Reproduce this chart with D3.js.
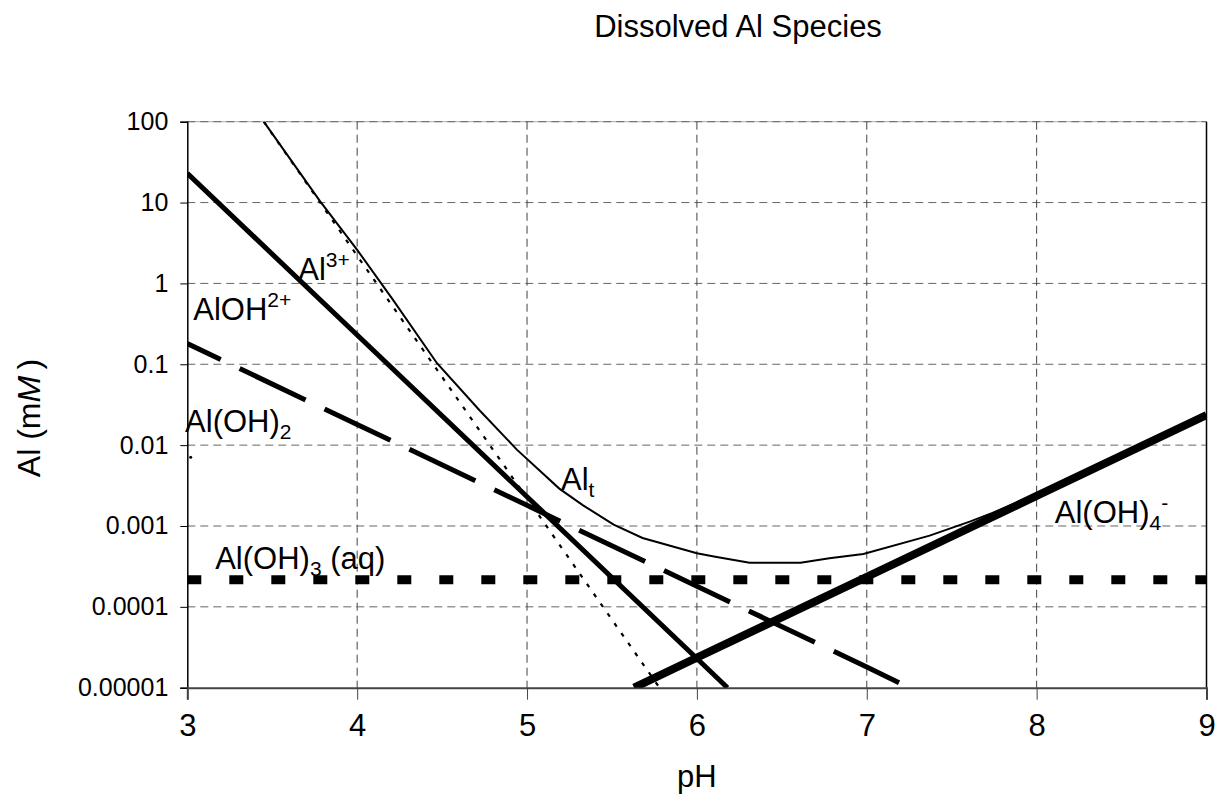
<!DOCTYPE html>
<html>
<head>
<meta charset="utf-8">
<script src="https://cdn.jsdelivr.net/npm/d3@7"></script>
<style>
  body { margin: 0; background: #fff; }
  svg { font-family: "Liberation Sans", Arial, sans-serif; }
</style>
</head>
<body>
<svg width="1225" height="812"></svg>
<script>
const phTicks = [3, 4, 5, 6, 7, 8, 9];
const concTicks = [1e-5, 1e-4, 1e-3, 1e-2, 0.1, 1, 10, 100];
const concTickLabels = ["0.00001", "0.0001", "0.001", "0.01", "0.1", "1", "10", "100"];

// [pH, mM]
const alThick = [[3, 23], [4, 0.23], [5, 0.0023], [6, 0.000023], [6.18, 0.00001]];
const alDotted = [[3.45, 100], [4, 2.2], [5, 0.0022], [5.78, 0.00001]];
const alDashed = [[3, 0.18], [4, 0.018], [5, 0.0018], [6, 0.00018], [7, 0.000018], [7.19, 0.0000115]];
const alOH3aq = [[3, 0.000216], [9, 0.000216]];
const alOH4 = [[5.63, 0.00001], [6, 0.0000235], [7, 0.000235], [8, 0.00235], [9, 0.0235]];
const alTotal = [[3.45, 100], [3.78, 10.5], [4.0, 2.6], [4.21, 0.63], [4.47, 0.103], [4.72, 0.027],
  [4.94, 0.0088], [5.19, 0.0029], [5.33, 0.0018], [5.51, 0.00104], [5.68, 0.00071], [6.0, 0.00046],
  [6.1, 0.00042], [6.31, 0.00035], [6.61, 0.00035], [6.78, 0.0004], [6.98, 0.00045], [7.37, 0.00076],
  [7.61, 0.00114], [7.74, 0.00145], [8, 0.0025], [9, 0.024]];
const alOH2Dot = [[3.02, 0.0071]];

// label anchors [pH, mM] at baseline start; part level: 0 normal, 1 sup, -1 sub
const labels = [
  {at: [3.653, 1.1], parts: [["Al", 0], ["3+", 1]]},
  {at: [3.035, 0.354], parts: [["AlOH", 0], ["2+", 1]]},
  {at: [2.987, 0.0146], parts: [["Al(OH)", 0], ["2", -1]]},
  {at: [5.2, 0.0028], parts: [["Al", 0], ["t", -1]]},
  {at: [8.107, 0.0011], parts: [["Al(OH)", 0], ["4", -1], ["-", 1]]},
  {at: [3.164, 0.00029], parts: [["Al(OH)", 0], ["3", -1], [" (aq)", 0]]}
];

const plotL = 187.3, plotR = 1206.5, plotT = 121.7, plotB = 687.7;
const svg = d3.select("svg");

const x = d3.scaleLinear().domain([3, 9]).range([plotL, plotR]);
const y = d3.scaleLog().domain([1e-5, 100]).range([plotB, plotT]);

svg.append("clipPath").attr("id", "plot")
  .append("rect").attr("x", plotL).attr("y", plotT).attr("width", plotR - plotL).attr("height", plotB - plotT);

// top edge, then grid
svg.append("line").attr("x1", plotL).attr("x2", plotR).attr("y1", plotT).attr("y2", plotT)
  .attr("stroke", "#aaa");
svg.append("g").selectAll("line").data(concTicks.slice(1))
  .join("line")
  .attr("x1", plotL).attr("x2", plotR)
  .attr("y1", d => y(d)).attr("y2", d => y(d))
  .attr("stroke", "#666").attr("stroke-dasharray", "8,5");
svg.append("g").selectAll("line").data(phTicks.slice(1, -1))
  .join("line")
  .attr("x1", d => x(d)).attr("x2", d => x(d))
  .attr("y1", plotT).attr("y2", plotB)
  .attr("stroke", "#444").attr("stroke-dasharray", "8,5");

// right frame
svg.append("line").attr("x1", plotR).attr("x2", plotR).attr("y1", plotT).attr("y2", plotB)
  .attr("stroke", "#000").attr("stroke-width", 1.5);

// axes
const yAxis = d3.axisLeft(y).tickValues(concTicks).tickFormat((d, i) => concTickLabels[i]).tickSize(7).tickPadding(12);
const gy = svg.append("g").attr("transform", `translate(${plotL},0)`).call(yAxis);
gy.select(".domain").attr("stroke", "#000").attr("stroke-width", 1.5);
gy.selectAll("text").attr("font-size", 25).attr("font-family", "Liberation Sans, Arial, sans-serif").attr("fill", "#000");

const xAxis = d3.axisBottom(x).tickValues(phTicks).tickFormat(d3.format("d")).tickSize(12).tickPadding(14);
const gx = svg.append("g").attr("transform", `translate(0,${plotB})`).call(xAxis);
gx.select(".domain").attr("stroke", "#444").attr("stroke-width", 2);
gx.selectAll("line").attr("stroke", "#444");
gx.selectAll("text").attr("font-size", 31).attr("font-family", "Liberation Sans, Arial, sans-serif").attr("fill", "#000");

// series
const line = d3.line().x(d => x(d[0])).y(d => y(d[1]));
const plot = svg.append("g").attr("clip-path", "url(#plot)");

plot.append("path").datum(alOH3aq).attr("d", line)
  .attr("fill", "none").attr("stroke", "#000").attr("stroke-width", 9).attr("stroke-dasharray", "14,28");
plot.append("path").datum(alDashed).attr("d", line)
  .attr("fill", "none").attr("stroke", "#000").attr("stroke-width", 5)
  .attr("stroke-dasharray", "73,21").attr("stroke-dashoffset", 36);
plot.append("path").datum(alDotted).attr("d", line)
  .attr("fill", "none").attr("stroke", "#000").attr("stroke-width", 2.2).attr("stroke-dasharray", "4,8");
plot.append("path").datum(alThick).attr("d", line)
  .attr("fill", "none").attr("stroke", "#000").attr("stroke-width", 5);
plot.append("path").datum(alOH4).attr("d", line)
  .attr("fill", "none").attr("stroke", "#000").attr("stroke-width", 8);
plot.append("path").datum(alTotal).attr("d", line)
  .attr("fill", "none").attr("stroke", "#000").attr("stroke-width", 2);
plot.selectAll("circle").data(alOH2Dot).join("circle")
  .attr("cx", d => x(d[0])).attr("cy", d => y(d[1])).attr("r", 1.5).attr("fill", "#000");

// species labels, shifting tspans up/down from the baseline
const shift = {"0": 0, "1": -13, "-1": 7};
labels.forEach(l => {
  const t = svg.append("text")
    .attr("x", x(l.at[0])).attr("y", y(l.at[1]))
    .attr("font-size", 31).attr("fill", "#000");
  let cur = 0;
  l.parts.forEach(([s, lvl]) => {
    const want = shift[lvl];
    t.append("tspan")
      .attr("dy", want - cur)
      .attr("font-size", lvl === 0 ? 31 : 21)
      .text(s);
    cur = want;
  });
});

// titles
svg.append("text").attr("x", 738).attr("y", 37).attr("text-anchor", "middle")
  .attr("font-size", 31).text("Dissolved Al Species");
svg.append("text").attr("x", (plotL + plotR) / 2).attr("y", 787).attr("text-anchor", "middle")
  .attr("font-size", 31).text("pH");
const yt = svg.append("text").attr("transform", "translate(40,418) rotate(-90)")
  .attr("text-anchor", "middle").attr("font-size", 32);
yt.append("tspan").text("Al (m");
yt.append("tspan").attr("font-style", "italic").text("M");
yt.append("tspan").text("\u2009)");
</script>
</body>
</html>
